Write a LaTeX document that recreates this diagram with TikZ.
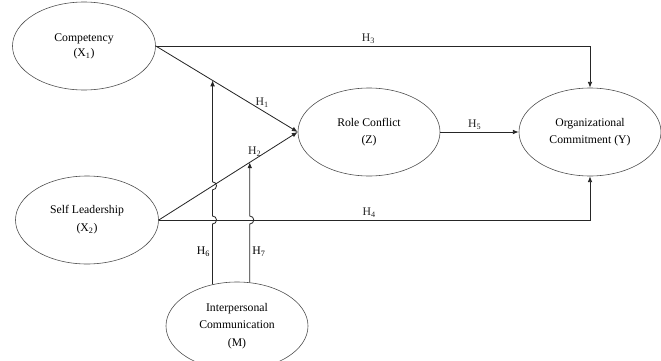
\documentclass[tikz,border=0pt]{standalone}
\usepackage{fontspec}
\setmainfont{Liberation Serif}
\usetikzlibrary{shapes.geometric, arrows.meta, calc}

\tikzset{
	var/.style={ellipse, draw=black!70, line width=0.5pt, align=center,
		minimum width=4.29cm, minimum height=2.64cm, inner sep=0pt, font=\fontsize{10}{14.5}\selectfont},
	link/.style={line width=0.7pt, black!85},
	arr/.style={link, -{Latex[length=5pt, width=4pt]}},
	hyp/.style={font=\fontsize{10}{12}\selectfont, inner sep=2pt}
}

\begin{document}
\begin{tikzpicture}[x=0.03cm, y=-0.03cm]
			\clip (0,0) rectangle (661,361);
			
			\node[var, font=\fontsize{10}{13}\selectfont] (X1) at (84,46){Competency\\(X\textsubscript{1})};
			\node[var, font=\fontsize{10}{15.5}\selectfont] (X2) at (87,220){Self Leadership\\(X\textsubscript{2})};
			\node[var, minimum width=4.26cm] (RC) at (369,132){Role Conflict\\(Z)};
			\node[var, minimum width=4.26cm] (Y) at (590,132){Organizational\\Commitment (Y)};
			\node[var, minimum width=4.26cm, font=\fontsize{10}{15}\selectfont] (M) at (237,326){Interpersonal\\Communication\\(M)};
			
			\draw[arr] (X1.east) -- node[hyp, pos=0.75, above]{H\textsubscript{1}} (RC.west);
			\draw[arr] (X2.east) -- node[hyp, pos=0.69, above]{H\textsubscript{2}} (RC.west);
			\draw[arr] (X1.east) -| node[hyp, pos=0.245, above]{H\textsubscript{3}} (Y.north);
			\draw[arr] (X2.east) -| node[hyp, pos=0.244, above]{H\textsubscript{4}} (Y.south);
			\draw[arr] (RC.east) -- node[hyp, pos=0.44, above]{H\textsubscript{5}} (Y.west);
			
			% moderation paths
			\coordinate (h6) at ($(X1.east)!0.40!(RC.west)$);
			\coordinate (h7) at ($(X2.east)!0.655!(RC.west)$);
			\coordinate (c6) at ($(X2.east)!0.388!(RC.west)$);
			
			\draw[arr] (M.120 -| h6) -- ($(h6 |- X2.east)+(0,4)$) arc(90:-90:4)
				-- ($(h6 |- c6)+(0,4)$) arc(90:-90:4) -- (h6);
			\draw[arr] (M.73 -| h7) -- ($(h7 |- X2.east)+(0,4)$) arc(90:-90:4) -- (h7);
			
			\node[hyp, left] (L6) at ($(h6 |- 0,252)$){H\textsubscript{6}};
			\node[hyp, right] (L7) at ($(h7 |- 0,252)$){H\textsubscript{7}};
			
		\end{tikzpicture}
\end{document}
